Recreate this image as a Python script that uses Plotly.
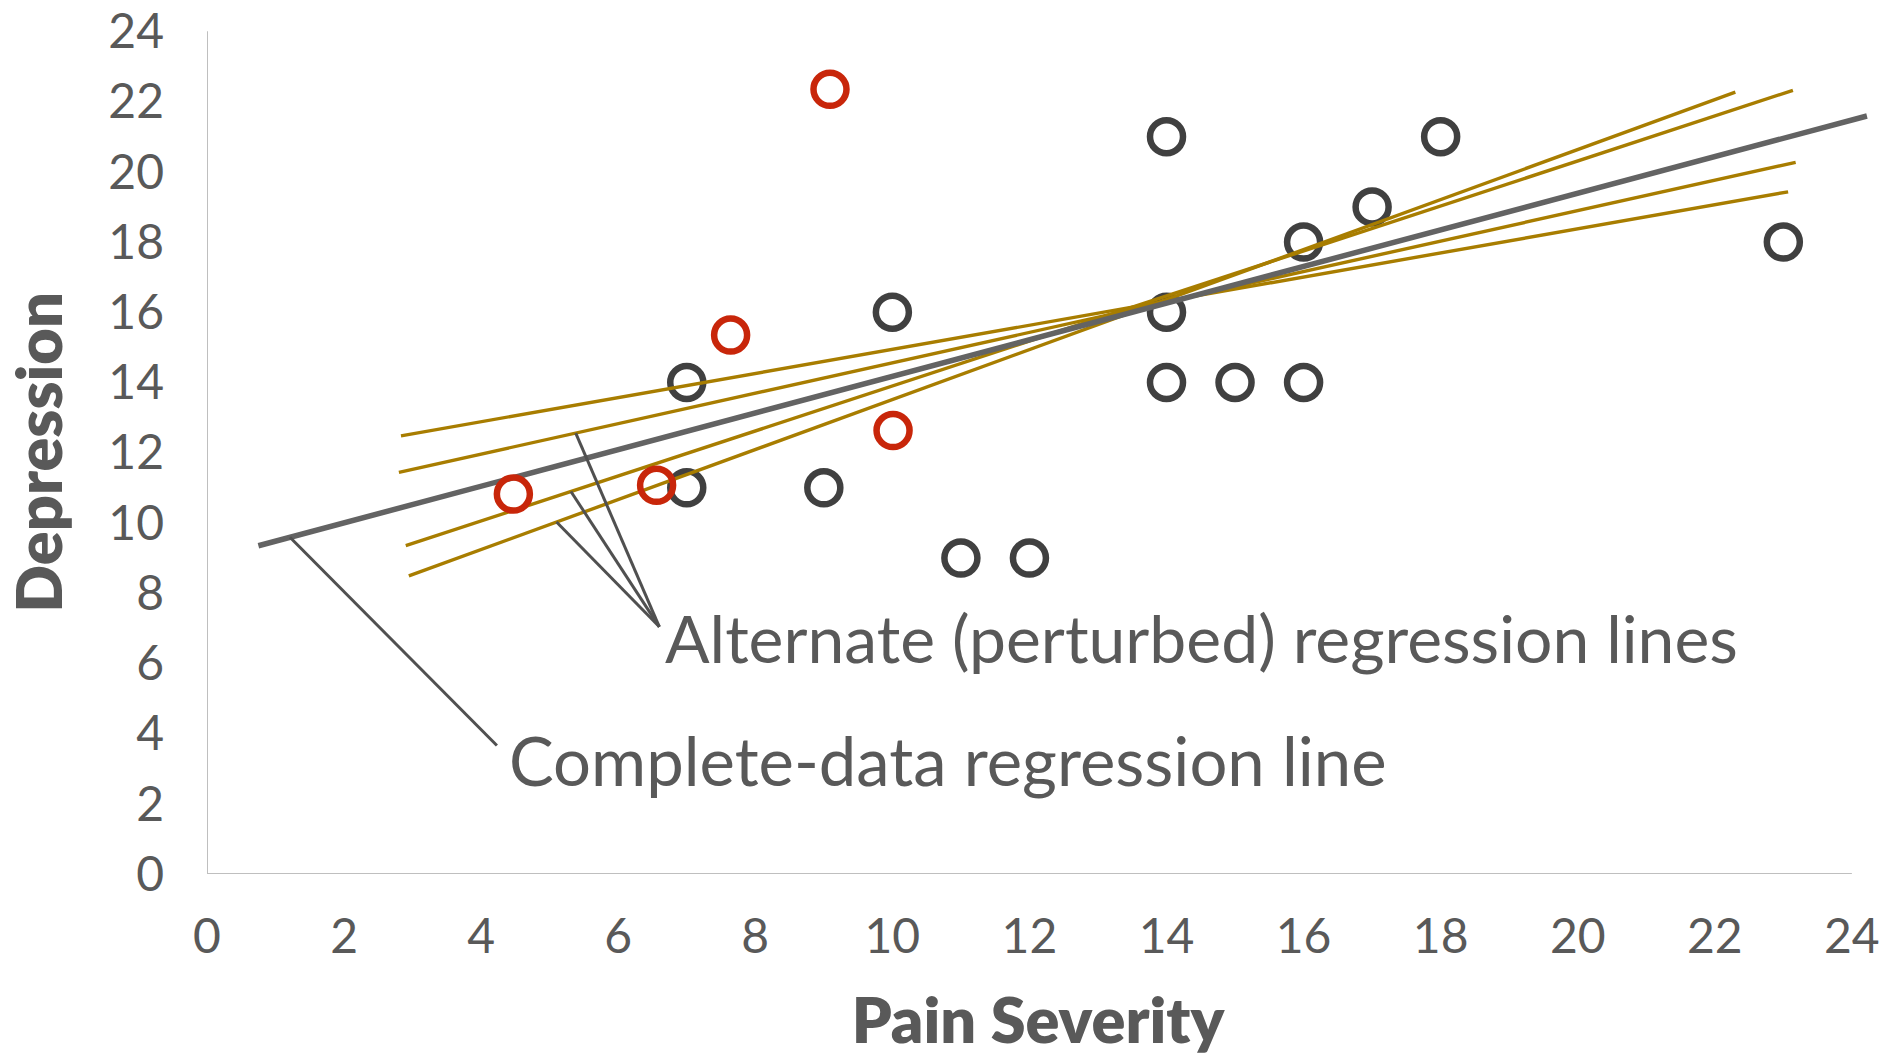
import plotly.graph_objects as go

# Observed (complete) cases
obs_pain = [7, 7, 9, 10, 11, 12, 14, 14, 14, 15, 16, 16, 17, 18, 23]
obs_depr = [14, 11, 11, 16, 9, 9, 21, 16, 14, 14, 14, 18, 19, 21, 18]

# Perturbed (imputed) cases
imp_pain = [4.47, 6.56, 7.64, 9.09, 10.01]
imp_depr = [10.82, 11.07, 15.35, 22.35, 12.63]

# Complete-data regression line (end points)
full_x = [0.75, 24.22]
full_y = [9.35, 21.59]

# Alternate (perturbed) regression lines (end points)
alt_x = [[2.83, 23.07], [2.80, 23.18], [2.90, 23.14], [2.945, 22.30]]
alt_y = [[12.48, 19.43], [11.44, 20.27], [9.35, 22.32], [8.49, 22.27]]

x_ticks = list(range(0, 25, 2))
y_ticks = list(range(0, 25, 2))

GOLD = "#A87D00"
RED = "#C8260A"
DARK = "#404040"
LINE_GRAY = "#636363"
LEADER = "#505050"
TEXT = "#595959"
FONT = "Lato"


def y_on(xs, ys, x):
    """Point on the straight segment (xs, ys) at abscissa x."""
    t = (x - xs[0]) / (xs[1] - xs[0])
    return ys[0] + t * (ys[1] - ys[0])


fig = go.Figure()

fig.add_trace(go.Scatter(
    x=obs_pain, y=obs_depr, mode="markers",
    marker=dict(symbol="circle-open", size=33, color=DARK,
                line=dict(width=6.5, color=DARK)),
    hoverinfo="x+y", showlegend=False,
))

for xs, ys in zip(alt_x, alt_y):
    fig.add_trace(go.Scatter(
        x=xs, y=ys, mode="lines",
        line=dict(color=GOLD, width=3.4), hoverinfo="skip", showlegend=False,
    ))

fig.add_trace(go.Scatter(
    x=full_x, y=full_y, mode="lines",
    line=dict(color=LINE_GRAY, width=5.5), hoverinfo="skip", showlegend=False,
))

fig.add_trace(go.Scatter(
    x=imp_pain, y=imp_depr, mode="markers",
    marker=dict(symbol="circle-open", size=33, color=RED,
                line=dict(width=6.5, color=RED)),
    hoverinfo="x+y", showlegend=False,
))

# Leader lines for the two labels
hub = (6.60, 7.04)
shapes = []
for idx, tip_x in [(1, 5.38), (2, 5.31), (3, 5.10)]:
    shapes.append(dict(
        type="line", xref="x", yref="y",
        x0=hub[0], y0=hub[1], x1=tip_x, y1=y_on(alt_x[idx], alt_y[idx], tip_x),
        line=dict(color=LEADER, width=3),
    ))
shapes.append(dict(
    type="line", xref="x", yref="y",
    x0=4.23, y0=3.66, x1=1.21, y1=y_on(full_x, full_y, 1.21),
    line=dict(color=LEADER, width=3),
))

# Axis lines
shapes.append(dict(type="line", xref="x", yref="y", x0=0, y0=0, x1=24, y1=0,
                   line=dict(color="#BFBFBF", width=2), layer="below"))
shapes.append(dict(type="line", xref="x", yref="y", x0=0, y0=0, x1=0, y1=24,
                   line=dict(color="#BFBFBF", width=2), layer="below"))

annotations = [
    dict(x=6.66, y=6.74, xref="x", yref="y", xanchor="left", yanchor="middle",
         text="Alternate (perturbed) regression lines", showarrow=False,
         font=dict(family=FONT, size=66, color=TEXT)),
    dict(x=4.38, y=3.25, xref="x", yref="y", xanchor="left", yanchor="middle",
         text="Complete-data regression line", showarrow=False,
         font=dict(family=FONT, size=67, color=TEXT)),
]

fig.update_layout(
    width=1900, height=1056,
    margin=dict(l=207, r=31, t=31, b=182),
    paper_bgcolor="white", plot_bgcolor="white",
    shapes=shapes, annotations=annotations,
    font=dict(family=FONT, color=TEXT),
    xaxis=dict(
        range=[0, 24.25], tickvals=x_ticks, ticktext=[str(v) for v in x_ticks],
        showgrid=False, zeroline=False, showline=False, automargin=False,
        ticks="", ticklabelstandoff=30, ticklabeloverflow="allow",
        tickfont=dict(family=FONT, size=48, color=TEXT),
        title=dict(text="Pain Severity", standoff=51,
                   font=dict(family=FONT, size=63, color=TEXT, weight=800)),
    ),
    yaxis=dict(
        range=[0, 24.01], tickvals=y_ticks, ticktext=[str(v) for v in y_ticks],
        showgrid=False, zeroline=False, showline=False, automargin=False,
        ticks="", ticklabelstandoff=42, ticklabeloverflow="allow",
        tickfont=dict(family=FONT, size=48, color=TEXT),
        title=dict(text="Depression", standoff=37,
                   font=dict(family=FONT, size=63, color=TEXT, weight=800)),
    ),
)

fig.write_html("out.html")
